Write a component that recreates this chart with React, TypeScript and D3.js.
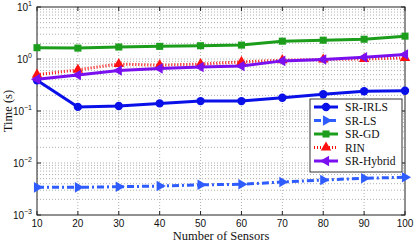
import * as d3 from 'd3';
import React, { useEffect, useRef } from 'react';

const sensors = [10, 20, 30, 40, 50, 60, 70, 80, 90, 100];
const srIrls = [0.39, 0.12, 0.125, 0.14, 0.155, 0.155, 0.18, 0.21, 0.24, 0.245];
const srLs = [0.0034, 0.0034, 0.0035, 0.0036, 0.0038, 0.0039, 0.0043, 0.0047, 0.0051, 0.0053];
const srGd = [1.65, 1.62, 1.7, 1.75, 1.8, 1.85, 2.2, 2.3, 2.4, 2.75];
const rin = [0.5, 0.62, 0.8, 0.76, 0.8, 0.88, 0.95, 0.98, 1.0, 1.05];
const srHybrid = [0.41, 0.49, 0.6, 0.66, 0.7, 0.73, 0.92, 0.98, 1.08, 1.22];

const xTicks = [10, 20, 30, 40, 50, 60, 70, 80, 90, 100];
const yExponents = [-3, -2, -1, 0, 1];

interface Series {
  name: string,
  values: number[],
  color: string,
  dash: string | null,
  marker: 'circle' | 'right' | 'square' | 'up' | 'left'
}

const series: Series[] = [
  { name: 'SR-IRLS', values: srIrls, color: '#0a10e8', dash: null, marker: 'circle' },
  { name: 'SR-LS', values: srLs, color: '#2f5cff', dash: '7,3,2,3', marker: 'right' },
  { name: 'SR-GD', values: srGd, color: '#1c9e1c', dash: null, marker: 'square' },
  { name: 'RIN', values: rin, color: '#ff1010', dash: '1,2', marker: 'up' },
  { name: 'SR-Hybrid', values: srHybrid, color: '#7a10f0', dash: null, marker: 'left' },
];

const serif = "'Liberation Serif', 'Times New Roman', serif";
const sans = "'Liberation Sans', Arial, sans-serif";

export default function App() {
  const svgRef = useRef<SVGSVGElement | null>(null);

  const width = 415;
  const height = 243;
  const marginTop = 7;
  const marginRight = 10;
  const marginBottom = 28;
  const marginLeft = 37;

  useEffect(() => {
    const x = d3.scaleLinear()
      .domain([10, 100])
      .range([marginLeft, width - marginRight]);

    const y = d3.scaleLog()
      .domain([1e-3, 10])
      .range([height - marginBottom, marginTop]);

    const svg = d3.select(svgRef.current)
      .attr('width', width)
      .attr('height', height)
      .attr('viewBox', `0 0 ${width} ${height}`);

    svg.selectAll('*').remove();

    svg.append('rect')
      .attr('width', width)
      .attr('height', height)
      .attr('fill', 'white');

    const grid = svg.append('g')
      .attr('stroke', '#9a9a9a')
      .attr('stroke-width', 0.8)
      .attr('stroke-dasharray', '1,2');

    // horizontal grid: majors and log minors
    for (let e = -3; e < 1; e++) {
      for (let m = 1; m < 10; m++) {
        if (e === -3 && m === 1) continue;
        const v = m * Math.pow(10, e);
        grid.append('line')
          .attr('x1', marginLeft).attr('x2', width - marginRight)
          .attr('y1', y(v)).attr('y2', y(v));
      }
    }

    grid.selectAll('line.v')
      .data(xTicks.slice(1, -1))
      .join('line')
      .attr('class', 'v')
      .attr('x1', d => x(d)).attr('x2', d => x(d))
      .attr('y1', marginTop).attr('y2', height - marginBottom);

    // axes box and inner ticks
    const axis = svg.append('g').attr('stroke', '#222').attr('stroke-width', 1);
    axis.append('rect')
      .attr('x', marginLeft).attr('y', marginTop)
      .attr('width', width - marginLeft - marginRight)
      .attr('height', height - marginTop - marginBottom)
      .attr('fill', 'none');

    xTicks.forEach(t => {
      axis.append('line').attr('x1', x(t)).attr('x2', x(t))
        .attr('y1', height - marginBottom).attr('y2', height - marginBottom - 4);
      axis.append('line').attr('x1', x(t)).attr('x2', x(t))
        .attr('y1', marginTop).attr('y2', marginTop + 4);
    });
    yExponents.forEach(e => {
      const yy = y(Math.pow(10, e));
      axis.append('line').attr('x1', marginLeft).attr('x2', marginLeft + 4)
        .attr('y1', yy).attr('y2', yy);
      axis.append('line').attr('x1', width - marginRight).attr('x2', width - marginRight - 4)
        .attr('y1', yy).attr('y2', yy);
    });

    // tick labels
    svg.append('g')
      .attr('font-family', sans)
      .attr('font-size', 10)
      .attr('fill', '#111')
      .attr('text-anchor', 'middle')
      .selectAll('text')
      .data(xTicks)
      .join('text')
      .attr('x', d => x(d))
      .attr('y', height - marginBottom + 12)
      .text(d => d);

    const yl = svg.append('g')
      .attr('font-family', sans)
      .attr('fill', '#111');
    yExponents.forEach(e => {
      const yy = y(Math.pow(10, e));
      const t = yl.append('text')
        .attr('x', marginLeft - 5)
        .attr('y', yy + 4)
        .attr('text-anchor', 'end')
        .attr('font-size', 10)
        .text('10');
      t.append('tspan')
        .attr('dy', -5)
        .attr('font-size', 7)
        .text(String(e).replace('-', '\u2212'));
    });

    // axis titles
    svg.append('text')
      .attr('x', (marginLeft + width - marginRight) / 2)
      .attr('y', height - 3)
      .attr('text-anchor', 'middle')
      .attr('font-family', serif)
      .attr('font-size', 12.5)
      .attr('fill', '#111')
      .text('Number of Sensors');

    svg.append('g')
      .attr('transform', `translate(12,${(marginTop + height - marginBottom) / 2})`)
      .append('text')
      .attr('x', 0)
      .attr('y', 0)
      .attr('transform', 'rotate(-90)')
      .attr('text-anchor', 'middle')
      .attr('font-family', serif)
      .attr('font-size', 12.5)
      .attr('fill', '#111')
      .text('Time (s)');

    const markerPath = (m: Series['marker']) => {
      if (m === 'circle') return { d: d3.symbol(d3.symbolCircle, 55)() as string, rot: 0 };
      if (m === 'square') return { d: d3.symbol(d3.symbolSquare, 50)() as string, rot: 0 };
      const tri = d3.symbol(d3.symbolTriangle, 48)() as string;
      if (m === 'right') return { d: tri, rot: 90 };
      if (m === 'left') return { d: tri, rot: -90 };
      return { d: tri, rot: 0 };
    };

    const line = d3.line<number>()
      .x((_, i) => x(sensors[i]))
      .y(d => y(d));

    series.forEach(s => {
      const g = svg.append('g');
      g.append('path')
        .datum(s.values)
        .attr('fill', 'none')
        .attr('stroke', s.color)
        .attr('stroke-width', 3)
        .attr('stroke-dasharray', s.dash)
        .attr('d', line);
      const mk = markerPath(s.marker);
      g.selectAll('path.m')
        .data(s.values)
        .join('path')
        .attr('class', 'm')
        .attr('d', mk.d)
        .attr('fill', s.color)
        .attr('transform', (d, i) => `translate(${x(sensors[i])},${y(d)}) rotate(${mk.rot})`);
    });

    // legend
    const lx = 310;
    const ly = 99;
    const lw = 92;
    const lh = 73;
    const leg = svg.append('g');
    leg.append('rect')
      .attr('x', lx).attr('y', ly).attr('width', lw).attr('height', lh)
      .attr('fill', 'white').attr('stroke', '#333').attr('stroke-width', 1);
    series.forEach((s, i) => {
      const yy = ly + 8 + i * 13.5;
      leg.append('line')
        .attr('x1', lx + 4).attr('x2', lx + 28)
        .attr('y1', yy).attr('y2', yy)
        .attr('stroke', s.color)
        .attr('stroke-width', 3)
        .attr('stroke-dasharray', s.dash);
      const mk = markerPath(s.marker);
      leg.append('path')
        .attr('d', mk.d)
        .attr('fill', s.color)
        .attr('transform', `translate(${lx + 16},${yy}) rotate(${mk.rot})`);
      leg.append('text')
        .attr('x', lx + 35)
        .attr('y', yy + 4)
        .attr('font-family', serif)
        .attr('font-size', 11.5)
        .attr('fill', '#111')
        .text(s.name);
    });
  }, []);

  return <svg ref={svgRef} style={{ position: 'absolute', left: 0, top: 0 }}></svg>;
}
